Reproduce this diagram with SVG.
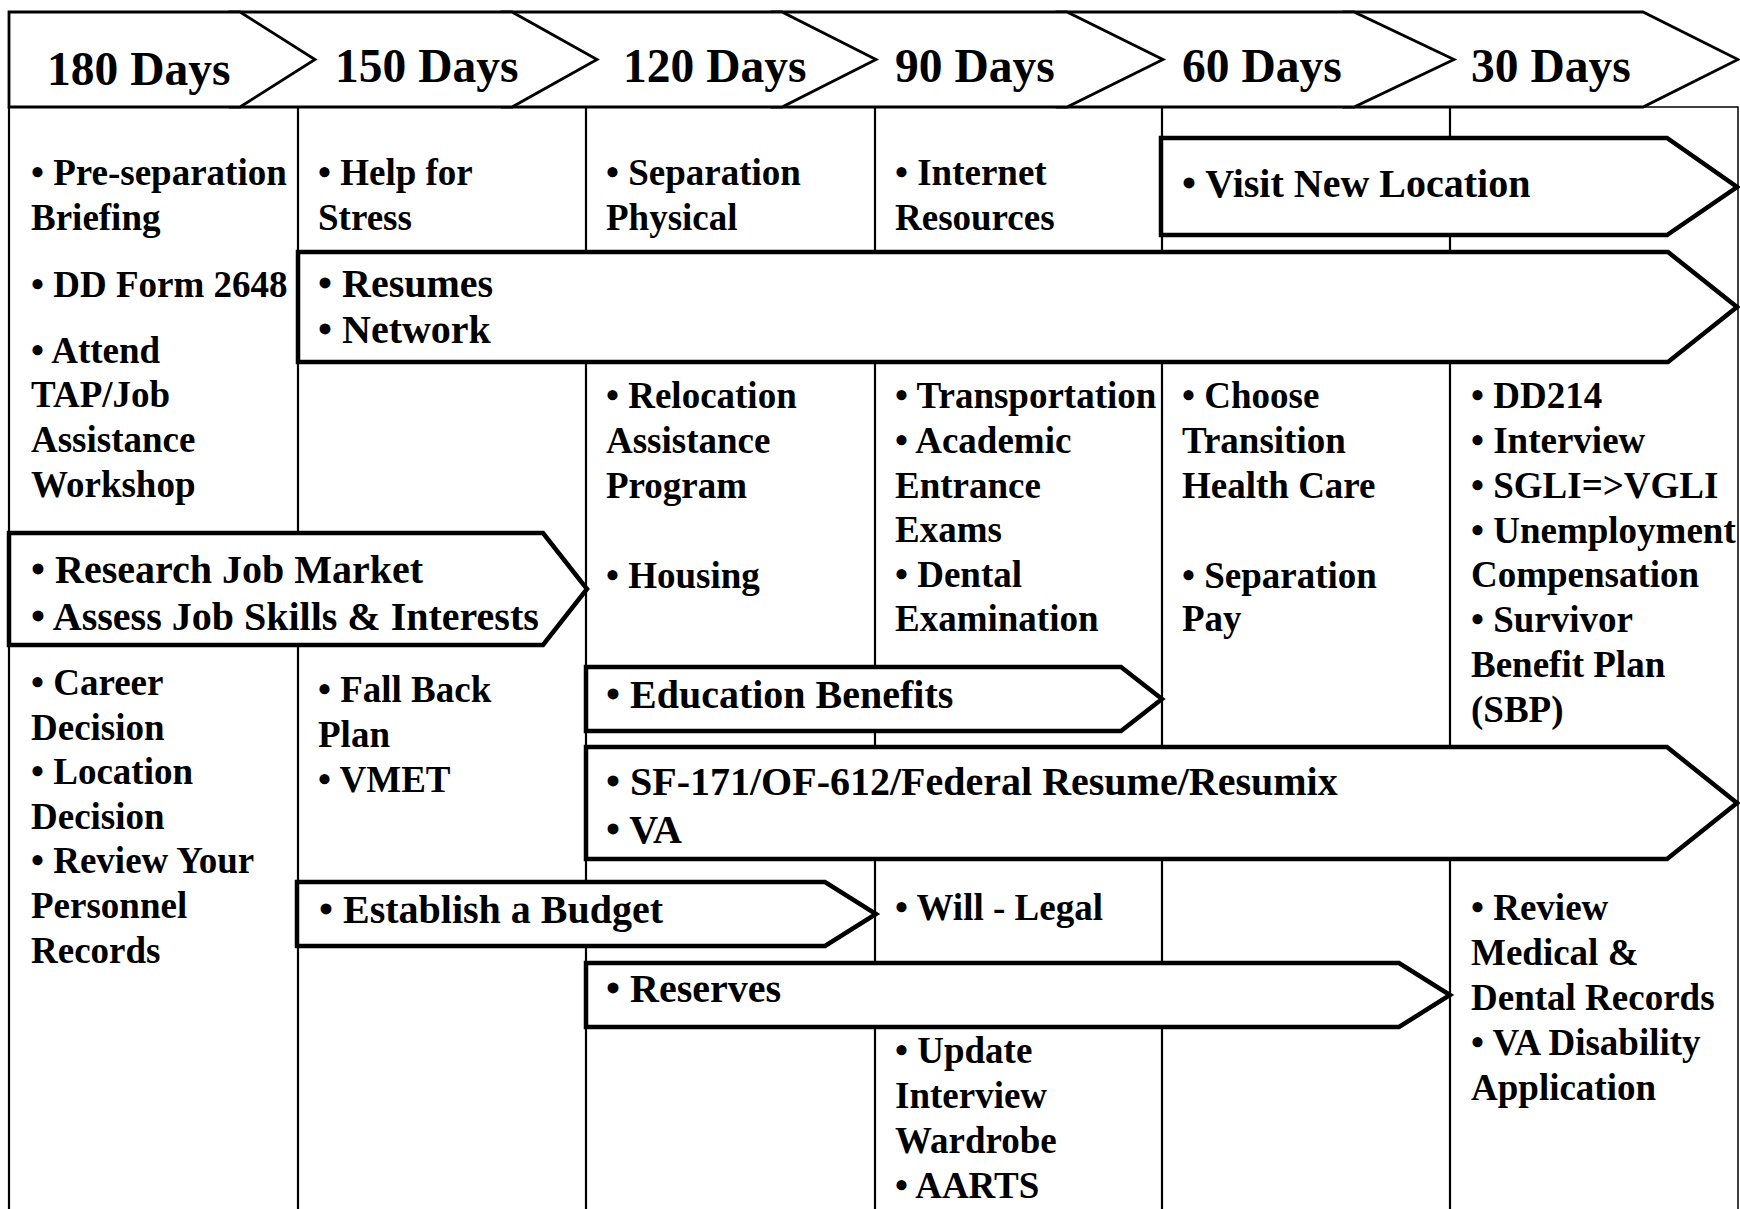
<svg xmlns="http://www.w3.org/2000/svg" width="1740" height="1209" viewBox="0 0 1740 1209">
<style>
text{font-family:"Liberation Serif","Times New Roman",serif;font-weight:bold;fill:#000}
.hdr{font-size:47.5px}
.t{font-size:37px}
.a{font-size:40px}
.chev{fill:#fff;stroke:#000;stroke-width:2.8;stroke-linejoin:miter}
.arrow{fill:#fff;stroke:#000;stroke-width:4.5;stroke-linejoin:miter}
.col{stroke:#000;stroke-width:2.2;fill:none}
.border{stroke:#000;stroke-width:1.5;fill:none}
</style>
<rect width="1740" height="1209" fill="#fff"/>
<g id="grid">
<rect class="border" x="9" y="107" width="1729" height="1110"/>
<line class="col" x1="9" y1="107" x2="9" y2="1209"/>
<line class="col" x1="298" y1="107" x2="298" y2="1209"/>
<line class="col" x1="586" y1="107" x2="586" y2="1209"/>
<line class="col" x1="875" y1="107" x2="875" y2="1209"/>
<line class="col" x1="1162" y1="107" x2="1162" y2="1209"/>
<line class="col" x1="1450" y1="107" x2="1450" y2="1209"/>
</g>
<g id="header">
<g id="h30"><polygon class="chev" points="1344,12 1643,12 1738,59.5 1643,107 1344,107"/><text class="hdr" x="1471" y="82">30 Days</text></g>
<g id="h60"><polygon class="chev" points="1057,12 1354,12 1454,59.5 1354,107 1057,107"/><text class="hdr" x="1182" y="82">60 Days</text></g>
<g id="h90"><polygon class="chev" points="772,12 1067,12 1163,59.5 1067,107 772,107"/><text class="hdr" x="895" y="82">90 Days</text></g>
<g id="h120"><polygon class="chev" points="502,12 782,12 876,59.5 782,107 502,107"/><text class="hdr" x="623" y="82">120 Days</text></g>
<g id="h150"><polygon class="chev" points="230,12 512,12 597,59.5 512,107 230,107"/><text class="hdr" x="335" y="82">150 Days</text></g>
<g id="h180"><polygon class="chev" points="9,12 240,12 315,59.5 240,107 9,107"/><text class="hdr" x="47" y="85">180 Days</text></g>
</g>
<g id="col180">
<text class="t" x="31" y="185">• Pre-separation</text>
<text class="t" x="31" y="230">Briefing</text>
<text class="t" x="31" y="297">• DD Form 2648</text>
<text class="t" x="31" y="363">• Attend</text>
<text class="t" x="31" y="407">TAP/Job</text>
<text class="t" x="31" y="452">Assistance</text>
<text class="t" x="31" y="497">Workshop</text>
<text class="t" x="31" y="695">• Career</text>
<text class="t" x="31" y="740">Decision</text>
<text class="t" x="31" y="784">• Location</text>
<text class="t" x="31" y="829">Decision</text>
<text class="t" x="31" y="873">• Review Your</text>
<text class="t" x="31" y="918">Personnel</text>
<text class="t" x="31" y="963">Records</text>
</g>
<g id="col150">
<text class="t" x="318" y="185">• Help for</text>
<text class="t" x="318" y="230">Stress</text>
<text class="t" x="318" y="702">• Fall Back</text>
<text class="t" x="318" y="747">Plan</text>
<text class="t" x="318" y="792">• VMET</text>
</g>
<g id="col120">
<text class="t" x="606" y="185">• Separation</text>
<text class="t" x="606" y="230">Physical</text>
<text class="t" x="606" y="408">• Relocation</text>
<text class="t" x="606" y="453">Assistance</text>
<text class="t" x="606" y="498">Program</text>
<text class="t" x="606" y="588">• Housing</text>
</g>
<g id="col90">
<text class="t" x="895" y="185">• Internet</text>
<text class="t" x="895" y="230">Resources</text>
<text class="t" x="895" y="408">• Transportation</text>
<text class="t" x="895" y="453">• Academic</text>
<text class="t" x="895" y="498">Entrance</text>
<text class="t" x="895" y="542">Exams</text>
<text class="t" x="895" y="587">• Dental</text>
<text class="t" x="895" y="631">Examination</text>
<text class="t" x="895" y="920">• Will - Legal</text>
<text class="t" x="895" y="1063">• Update</text>
<text class="t" x="895" y="1108">Interview</text>
<text class="t" x="895" y="1153">Wardrobe</text>
<text class="t" x="895" y="1198">• AARTS</text>
</g>
<g id="col60">
<text class="t" x="1182" y="408">• Choose</text>
<text class="t" x="1182" y="453">Transition</text>
<text class="t" x="1182" y="498">Health Care</text>
<text class="t" x="1182" y="588">• Separation</text>
<text class="t" x="1182" y="631">Pay</text>
</g>
<g id="col30">
<text class="t" x="1471" y="408">• DD214</text>
<text class="t" x="1471" y="453">• Interview</text>
<text class="t" x="1471" y="498">• SGLI=&gt;VGLI</text>
<text class="t" x="1471" y="543">• Unemployment</text>
<text class="t" x="1471" y="587">Compensation</text>
<text class="t" x="1471" y="632">• Survivor</text>
<text class="t" x="1471" y="677">Benefit Plan</text>
<text class="t" x="1471" y="722">(SBP)</text>
<text class="t" x="1471" y="920">• Review</text>
<text class="t" x="1471" y="965">Medical &amp;</text>
<text class="t" x="1471" y="1010">Dental Records</text>
<text class="t" x="1471" y="1055">• VA Disability</text>
<text class="t" x="1471" y="1100">Application</text>
</g>
<g id="arrow-visit">
<polygon class="arrow" points="1161,138 1667,138 1737,187 1667,235 1161,235"/>
<text class="a" x="1182" y="197">• Visit New Location</text>
</g>
<g id="arrow-resumes">
<polygon class="arrow" points="298,252 1668,252 1737,307 1668,362 298,362"/>
<text class="a" x="318" y="297">• Resumes</text>
<text class="a" x="318" y="343">• Network</text>
</g>
<g id="arrow-research">
<polygon class="arrow" points="9,533 543,533 587,589 543,645 9,645"/>
<text class="a" x="31" y="583">• Research Job Market</text>
<text class="a" x="31" y="630">• Assess Job Skills &amp; Interests</text>
</g>
<g id="arrow-education">
<polygon class="arrow" points="586,667 1121,667 1162,699 1121,731 586,731"/>
<text class="a" x="606" y="708">• Education Benefits</text>
</g>
<g id="arrow-federal">
<polygon class="arrow" points="586,747 1667,747 1737,803 1667,859 586,859"/>
<text class="a" x="606" y="795">• SF-171/OF-612/Federal Resume/Resumix</text>
<text class="a" x="606" y="843">• VA</text>
</g>
<g id="arrow-budget">
<polygon class="arrow" points="297,882 825,882 876,914 825,946 297,946"/>
<text class="a" x="319" y="923">• Establish a Budget</text>
</g>
<g id="arrow-reserves">
<polygon class="arrow" points="586,963 1399,963 1450,995 1399,1027 586,1027"/>
<text class="a" x="606" y="1002">• Reserves</text>
</g>
</svg>
